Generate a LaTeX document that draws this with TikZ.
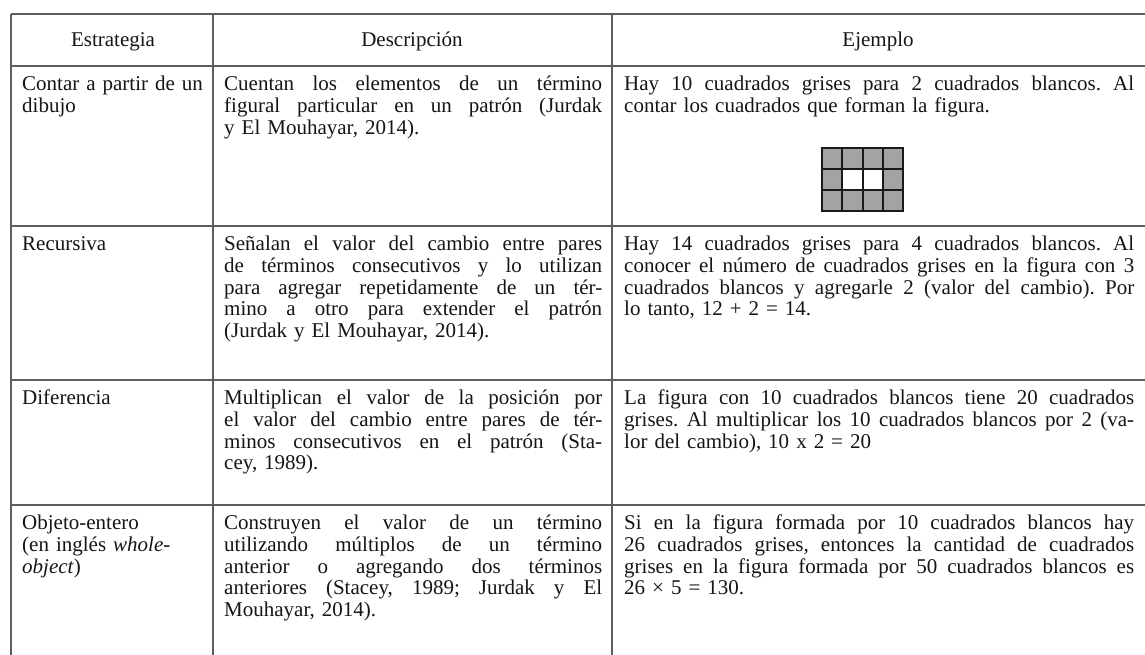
\documentclass[tikz,border=0pt]{standalone}
\usepackage{fontspec}
\setmainfont{Liberation Serif}
\definecolor{rulegray}{HTML}{5E5E5E}
\definecolor{textblack}{HTML}{151515}
\definecolor{sqgray}{HTML}{A3A3A3}
\newcommand{\jlineB}[1]{\leavevmode\hbox to 378pt{\spaceskip=.25em plus 1fil minus .08em\xspaceskip=\spaceskip\relax #1}}
\newcommand{\jlineC}[1]{\leavevmode\hbox to 510pt{\spaceskip=.25em plus 1fil minus .08em\xspaceskip=\spaceskip\relax #1}}
\begin{document}
\begin{tikzpicture}[x=1pt,y=-1pt,
  rule/.style={draw=rulegray,line width=1.3pt},
  txt/.style={inner sep=0pt,font=\fontsize{21}{21.75}\selectfont\frenchspacing,text=textblack},
  cellA/.style={txt,anchor=north west,text width=190pt,align=left},
  cellB/.style={txt,anchor=north west,text width=378pt,align=left},
  cellC/.style={txt,anchor=north west,text width=510pt,align=left},
  head/.style={txt,anchor=base},
  sq/.style={draw=black!90,line width=2pt}]
\useasboundingbox (0,0) rectangle (1145,655);
\fill[white] (0,0) rectangle (1145,655);
% rules
\draw[rule] (11,14) -- (1145,14);
\draw[rule] (11,66) -- (1145,66);
\draw[rule] (11,226) -- (1145,226);
\draw[rule] (11,380) -- (1145,380);
\draw[rule] (11,505) -- (1145,505);
\draw[rule] (11,14) -- (11,655);
\draw[rule] (213,14) -- (213,655);
\draw[rule] (612,14) -- (612,655);
% header
\node[head] (h1) at (113,47) {Estrategia};
\node[head] (h2) at (412,47) {Descripción};
\node[head] (h3) at (878,47) {Ejemplo};
% row 1
\node[cellA] (a1) at (22,75.3) {\strut Contar a partir de un\\dibujo};
\node[cellB] (b1) at (224,75.3) {\strut\jlineB{Cuentan los elementos de un término}\\
\jlineB{figural particular en un patrón (Jurdak}\\
y El Mouhayar, 2014).};
\node[cellC] (c1) at (624,75.3) {\strut\jlineC{Hay 10 cuadrados grises para 2 cuadrados blancos. Al}\\
contar los cuadrados que forman la figura.};
% figure
\fill[sqgray] (822,148) rectangle (903,211);
\fill[white] (842.25,169) rectangle (882.75,190);
\foreach \gx in {842.25,862.5,882.75} \draw[sq] (\gx,148) -- (\gx,211);
\foreach \gy in {169,190} \draw[sq] (822,\gy) -- (903,\gy);
\draw[sq] (822,148) rectangle (903,211);
% row 2
\node[cellA] (a2) at (22,235.3) {\strut Recursiva};
\node[cellB] (b2) at (224,235.3) {\strut\jlineB{Señalan el valor del cambio entre pares}\\
\jlineB{de términos consecutivos y lo utilizan}\\
\jlineB{para agregar repetidamente de un tér-}\\
\jlineB{mino a otro para extender el patrón}\\
(Jurdak y El Mouhayar, 2014).};
\node[cellC] (c2) at (624,235.3) {\strut\jlineC{Hay 14 cuadrados grises para 4 cuadrados blancos. Al}\\
\jlineC{conocer el número de cuadrados grises en la figura con 3}\\
\jlineC{cuadrados blancos y agregarle 2 (valor del cambio). Por}\\
lo tanto, 12 + 2 = 14.};
% row 3
\node[cellA] (a3) at (22,389.3) {\strut Diferencia};
\node[cellB] (b3) at (224,389.3) {\strut\jlineB{Multiplican el valor de la posición por}\\
\jlineB{el valor del cambio entre pares de tér-}\\
\jlineB{minos consecutivos en el patrón (Sta-}\\
cey, 1989).};
\node[cellC] (c3) at (624,389.3) {\strut\jlineC{La figura con 10 cuadrados blancos tiene 20 cuadrados}\\
\jlineC{grises. Al multiplicar los 10 cuadrados blancos por 2 (va-}\\
lor del cambio), 10 x 2 = 20};
% row 4
\node[cellA] (a4) at (22,514.3) {\strut Objeto-entero\\(en inglés \textit{whole-}\\\textit{object})};
\node[cellB] (b4) at (224,514.3) {\strut\jlineB{Construyen el valor de un término}\\
\jlineB{utilizando múltiplos de un término}\\
\jlineB{anterior o agregando dos términos}\\
\jlineB{anteriores (Stacey, 1989; Jurdak y El}\\
Mouhayar, 2014).};
\node[cellC] (c4) at (624,514.3) {\strut\jlineC{Si en la figura formada por 10 cuadrados blancos hay}\\
\jlineC{26 cuadrados grises, entonces la cantidad de cuadrados}\\
\jlineC{grises en la figura formada por 50 cuadrados blancos es}\\
26 × 5 = 130.};
\end{tikzpicture}
\end{document}
